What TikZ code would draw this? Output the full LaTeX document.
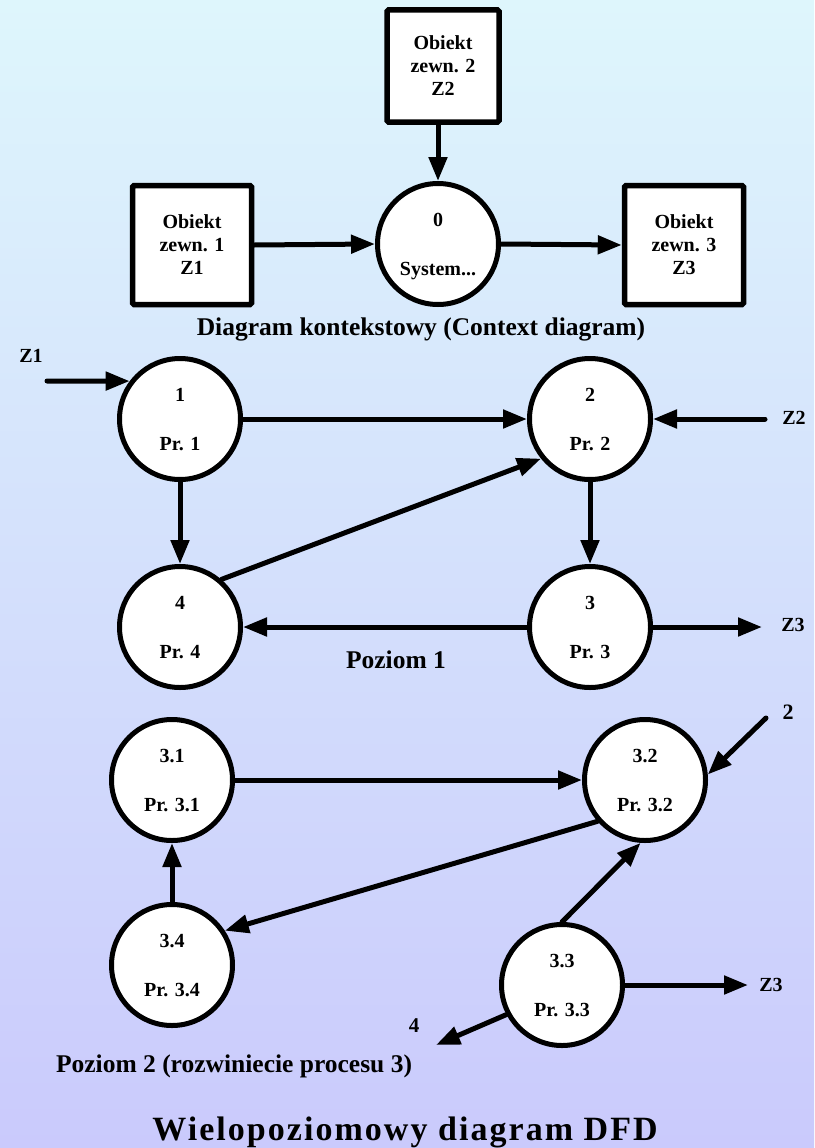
\documentclass[tikz,border=0pt]{standalone}
\usepackage{fontspec}
\setmainfont{Liberation Serif}
\usetikzlibrary{arrows.meta,calc}
\definecolor{bgtop}{RGB}{222,246,252}
\definecolor{bgbot}{RGB}{202,202,252}

% process bubble: circle with a number above and a name below
\newcommand\procnode[4]{%
  \node[proc] (#1) at (#2) {};
  \node[ptext] (#1n) at ($(#1)+(0,-18)$) {#3};
  \node[ptext] (#1t) at ($(#1)+(0,31)$) {#4};
}

\begin{document}
\begin{tikzpicture}[x=1pt,y=-1pt,
  flow/.style={line width=5pt, line cap=round, -{Triangle[length=24pt,width=18pt]}},
  extbox/.style={draw, line width=5.5pt, fill=white, rounded corners=1.5pt,
    minimum width=119pt, minimum height=119pt, inner sep=0pt, align=center,
    font=\fontsize{20}{23}\selectfont\bfseries},
  proc/.style={draw, circle, line width=5pt, fill=white, minimum size=121pt, inner sep=0pt},
  ptext/.style={anchor=base, inner sep=0pt, font=\fontsize{20}{24}\selectfont\bfseries},
  lbl/.style={inner sep=0pt, font=\fontsize{20}{24}\selectfont\bfseries},
  capt/.style={anchor=base, inner sep=0pt, font=\fontsize{25.5}{30}\selectfont\bfseries},
]
% background
\fill[top color=bgtop, bottom color=bgbot] (0,0) rectangle (814,1148);
\useasboundingbox (0,0) rectangle (814,1148);

% ---------- context diagram ----------
\node[extbox, minimum width=112pt, minimum height=112pt] (z2box) at (443,66) {Obiekt\\zewn. 2\\Z2};
\node[extbox] (z1box) at (192,245) {Obiekt\\zewn. 1\\Z1};
\node[extbox] (z3box) at (684,245) {Obiekt\\zewn. 3\\Z3};
\procnode{sys}{438,244}{0}{System...}

\draw[flow] (z1box.east) -- (sys.west);
\draw[flow] (sys.east) -- (z3box.west);
\draw[flow] (z2box.south -| sys.north) -- (sys.north);

\node[capt] (ctxcap) at (421,335) {Diagram kontekstowy (Context diagram)};

% ---------- level 1 ----------
\procnode{p1}{180,419}{1}{Pr. 1}
\procnode{p2}{590,419}{2}{Pr. 2}
\procnode{p4}{180,627}{4}{Pr. 4}
\procnode{p3}{590,627}{3}{Pr. 3}

\coordinate (z1in) at (47,381);
\coordinate (z2in) at (765,419);
\coordinate (z3out) at (762,627);
\node[lbl] (z1lbl) at (31,356) {Z1};
\node[lbl] (z2lbl) at (794,418) {Z2};
\node[lbl] (z3lbl) at (793,625) {Z3};

\draw[flow] (z1in) -- (p1.143);
\draw[flow] (p1.east) -- (p2.west);
\draw[flow] (z2in) -- (p2.east);
\draw[flow] (p1.south) -- (p4.north);
\draw[flow] (p4.49) -- (p2.219);
\draw[flow] (p2.south) -- (p3.north);
\draw[flow] (p3.west) -- (p4.east);
\draw[flow] (p3.east) -- (z3out);

\node[capt] (lvl1) at (396,668) {Poziom 1};

% ---------- level 2 ----------
\procnode{q1}{172,780}{3.1}{Pr. 3.1}
\procnode{q2}{645,780}{3.2}{Pr. 3.2}
\procnode{q4}{172,965}{3.4}{Pr. 3.4}
\procnode{q3}{562,985}{3.3}{Pr. 3.3}

\coordinate (in2) at (766,718);
\coordinate (out4) at (436,1045);
\coordinate (outz3) at (748,985);
\node[lbl, font=\fontsize{22}{26}\selectfont\bfseries] (in2lbl) at (788,712) {2};
\node[lbl, font=\fontsize{21}{26}\selectfont\bfseries] (out4lbl) at (414,1026) {4};
\node[lbl] (outz3lbl) at (771,985) {Z3};

\draw[flow] (q1.east) -- (q2.west);
\draw[flow] (q4.north) -- (q1.south);
\draw[flow] (q2.221) -- (q4.33);
\draw[flow] (q3.90) -- (q2.266);
\draw[flow] (q3.east) -- (outz3);
\draw[flow] (q3.208) -- (out4);
\draw[flow] (in2) -- (q2.5);

\node[capt] (lvl2) at (234,1072) {Poziom 2 (rozwiniecie procesu 3)};

% title
\node[capt, font=\fontsize{34}{40}\selectfont\bfseries\addfontfeature{LetterSpace=6}] (title) at (405,1140) {Wielopoziomowy diagram DFD};
\end{tikzpicture}
\end{document}
